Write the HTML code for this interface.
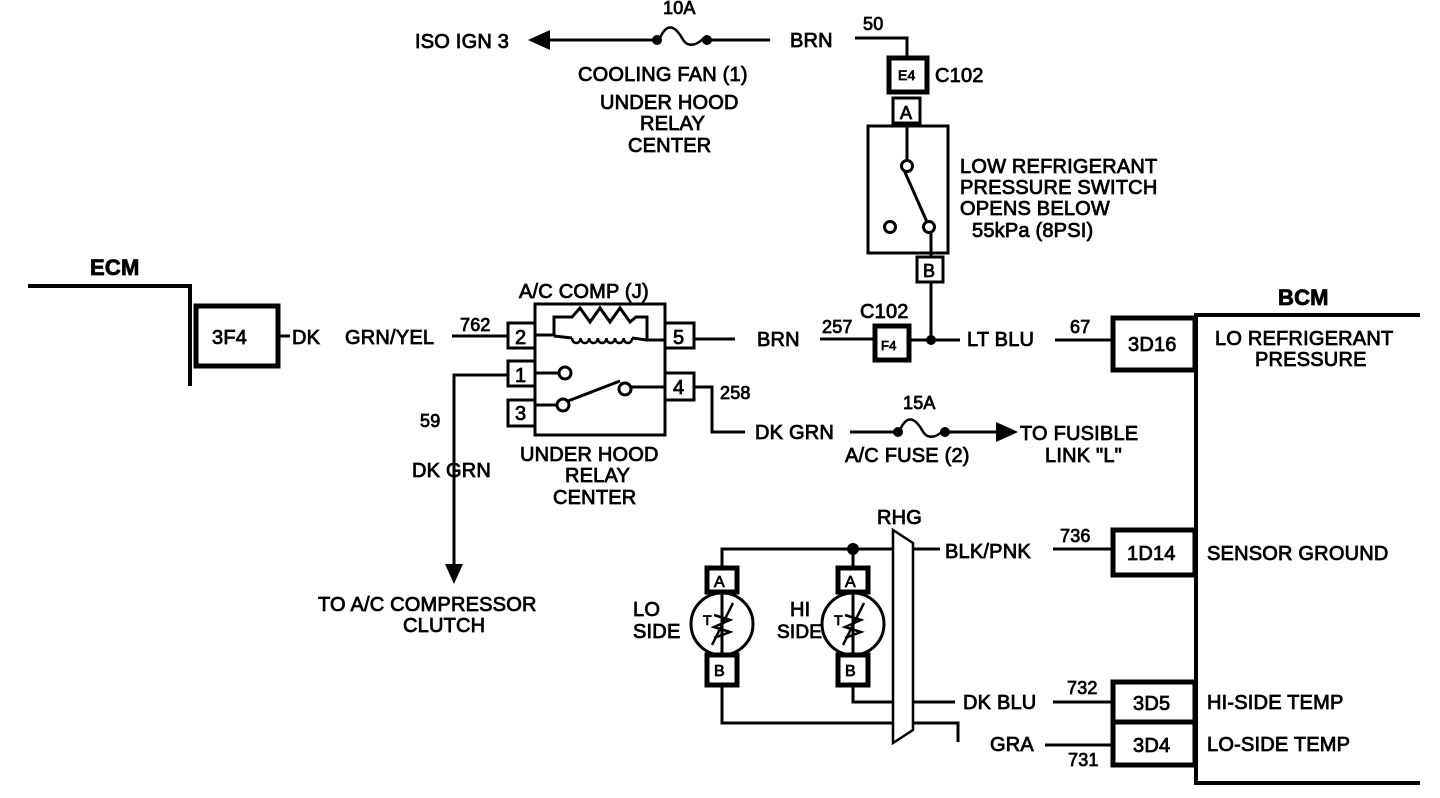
<!DOCTYPE html>
<html><head><meta charset="utf-8"><style>
html,body{margin:0;padding:0;background:#fff;}
svg{display:block}
text{font-family:"Liberation Sans",sans-serif;font-size:20px;fill:#000;stroke:#000;stroke-width:0.8px;letter-spacing:0.2px}
.s{font-size:18px}
</style></head><body>
<svg width="1440" height="798" viewBox="0 0 1440 798" xmlns="http://www.w3.org/2000/svg">
<g fill="none" stroke="#000" stroke-width="3">
<!-- ECM -->
<polyline points="28,286 190,286 190,386" stroke-width="4"/>
<rect x="196" y="306" width="82" height="60" stroke-width="5"/>
<line x1="278" y1="336" x2="290" y2="336"/>
<line x1="452" y1="336" x2="508" y2="336"/>
<!-- relay -->
<rect x="535" y="304" width="130" height="131"/>
<rect x="508" y="323" width="27" height="25"/>
<rect x="508" y="361" width="27" height="25"/>
<rect x="508" y="400" width="27" height="26"/>
<rect x="665" y="323" width="29" height="25"/>
<rect x="665" y="373" width="29" height="27"/>
<polyline points="535,335 554,335 554,317 572,317 580,308 590,322 600,308 610,322 620,308 630,322 636,317 647,317 647,340 665,340"/>
<line x1="554" y1="333" x2="554" y2="335"/>
<path d="M572,338 a4.3,5 0 0 0 8.6,0 a4.3,5 0 0 0 8.6,0 a4.3,5 0 0 0 8.6,0 a4.3,5 0 0 0 8.6,0 a4.3,5 0 0 0 8.6,0 a4.3,5 0 0 0 8.6,0 a4.3,5 0 0 0 8.6,0" stroke-width="2.5"/>
<line x1="554" y1="336" x2="572" y2="338"/>
<line x1="632" y1="338" x2="647" y2="340"/>
<line x1="535" y1="373" x2="559" y2="373"/>
<circle cx="565" cy="373" r="6"/>
<line x1="535" y1="405" x2="557" y2="405"/>
<circle cx="563" cy="405" r="6"/>
<line x1="568" y1="401" x2="620" y2="381"/>
<circle cx="625" cy="389" r="6"/>
<line x1="631" y1="387" x2="665" y2="387"/>
<!-- pin5 wire -->
<line x1="694" y1="339" x2="735" y2="339"/>
<line x1="820" y1="339" x2="875" y2="339"/>
<rect x="875" y="326" width="34" height="34" stroke-width="5"/>
<line x1="909" y1="340" x2="960" y2="340"/>
<line x1="1055" y1="340" x2="1113" y2="340"/>
<rect x="1113" y="318" width="82" height="52" stroke-width="5"/>
<!-- switch -->
<line x1="931" y1="282" x2="931" y2="340"/>
<rect x="917" y="257" width="26" height="25"/>
<rect x="868" y="126" width="80" height="127"/>
<rect x="893" y="98" width="27" height="25"/>
<rect x="889" y="58" width="38" height="34" stroke-width="5"/>
<polyline points="907,58 907,38 855,38"/>
<line x1="907" y1="123" x2="907" y2="161"/>
<circle cx="907" cy="166" r="5.5"/>
<line x1="904" y1="170" x2="927" y2="222"/>
<circle cx="929" cy="227" r="5.5"/>
<circle cx="890" cy="227" r="5.5"/>
<line x1="931" y1="232" x2="931" y2="257"/>
<!-- top fuse -->
<line x1="708" y1="40" x2="770" y2="40"/>
<line x1="545" y1="40" x2="657" y2="40"/>
<path d="M660,38 c6,-14 14,-14 22,0 c4,8 12,10 22,0" stroke-width="2.5"/>
<!-- pin1 -->
<polyline points="508,375 454,375 454,570"/>
<!-- pin4 -->
<polyline points="694,387 712,387 712,432 745,432"/>
<line x1="850" y1="432" x2="898" y2="432"/>
<line x1="945" y1="432" x2="1003" y2="432"/>
<path d="M900,430 c6,-14 14,-14 22,0 c4,8 12,10 22,0" stroke-width="2.5"/>
<!-- BCM -->
<polyline points="1420,315 1196,315 1196,783 1420,783" stroke-width="4"/>
<rect x="1113" y="530" width="82" height="45" stroke-width="5"/>
<rect x="1113" y="682" width="82" height="40" stroke-width="5"/>
<rect x="1113" y="722" width="82" height="43" stroke-width="5"/>
<!-- RHG -->
<polygon points="893,530 913,543 913,730 893,743" stroke-width="2.5"/>
<polyline points="722,568 722,549 893,549"/>
<line x1="853" y1="549" x2="853" y2="568"/>
<line x1="913" y1="549" x2="940" y2="549"/>
<line x1="1053" y1="549" x2="1113" y2="549"/>
<rect x="707" y="568" width="30" height="24" stroke-width="5"/>
<rect x="838" y="568" width="30" height="24" stroke-width="5"/>
<circle cx="722" cy="624" r="31"/>
<circle cx="853" cy="624" r="31"/>
<line x1="722" y1="592" x2="722" y2="655"/>
<line x1="853" y1="592" x2="853" y2="655"/>
<line x1="712" y1="645" x2="733" y2="603" stroke-width="2.5"/>
<line x1="843" y1="645" x2="864" y2="603" stroke-width="2.5"/>
<polyline points="714,615 730,620 714,627 730,632 714,638" stroke-width="2.5"/>
<polyline points="845,615 861,620 845,627 861,632 845,638" stroke-width="2.5"/>
<rect x="707" y="655" width="30" height="30" stroke-width="5"/>
<rect x="838" y="655" width="30" height="30" stroke-width="5"/>
<polyline points="722,685 722,723 893,723"/>
<polyline points="853,685 853,702 893,702"/>
<line x1="913" y1="702" x2="955" y2="702"/>
<line x1="1053" y1="702" x2="1113" y2="702"/>
<polyline points="913,723 958,723 958,742"/>
<line x1="1045" y1="745" x2="1113" y2="745"/>
</g>
<g fill="#000">
<circle cx="657" cy="40" r="5"/><circle cx="707" cy="40" r="5"/>
<polygon points="528,40 550,30 550,50"/>
<circle cx="931" cy="340" r="5"/>
<circle cx="898" cy="432" r="5"/><circle cx="945" cy="432" r="5"/>
<polygon points="1018,432 996,422 996,442"/>
<polygon points="454,584 445,564 463,564"/>
<circle cx="853" cy="549" r="6"/>
</g>
<text x="90" y="275" style="font-size:22px;font-weight:bold">ECM</text>
<text x="212" y="344">3F4</text>
<text x="292" y="344">DK</text>
<text x="345" y="344">GRN/YEL</text>
<text x="460" y="331" class="s">762</text>
<text x="515" y="344">2</text>
<text x="515" y="382">1</text>
<text x="515" y="420">3</text>
<text x="673" y="344">5</text>
<text x="673" y="394">4</text>
<text x="519" y="298">A/C COMP (J)</text>
<text x="757" y="346">BRN</text>
<text x="822" y="333" class="s">257</text>
<text x="860" y="318">C102</text>
<text x="881" y="350" style="font-size:13px">F4</text>
<text x="967" y="346">LT BLU</text>
<text x="1070" y="333" class="s">67</text>
<text x="1128" y="351">3D16</text>
<text x="1278" y="305" style="font-size:22px;font-weight:bold">BCM</text>
<text x="1215" y="345">LO REFRIGERANT</text>
<text x="1255" y="366">PRESSURE</text>
<text x="898" y="80" style="font-size:14px">E4</text>
<text x="935" y="82">C102</text>
<text x="900" y="119" style="font-size:18px">A</text>
<text x="923" y="277" style="font-size:18px">B</text>
<text x="960" y="173">LOW REFRIGERANT</text>
<text x="960" y="194">PRESSURE SWITCH</text>
<text x="960" y="215">OPENS BELOW</text>
<text x="972" y="237">55kPa (8PSI)</text>
<text x="863" y="30" class="s">50</text>
<text x="790" y="47">BRN</text>
<text x="663" y="14" class="s">10A</text>
<text x="415" y="48">ISO IGN 3</text>
<text x="578" y="81">COOLING FAN (1)</text>
<text x="600" y="109">UNDER HOOD</text>
<text x="640" y="130">RELAY</text>
<text x="628" y="152">CENTER</text>
<text x="420" y="427" class="s">59</text>
<text x="412" y="477">DK GRN</text>
<text x="318" y="611">TO A/C COMPRESSOR</text>
<text x="403" y="632">CLUTCH</text>
<text x="720" y="399" class="s">258</text>
<text x="755" y="439">DK GRN</text>
<text x="903" y="409" class="s">15A</text>
<text x="1020" y="440">TO FUSIBLE</text>
<text x="1045" y="462">LINK "L"</text>
<text x="845" y="462">A/C FUSE (2)</text>
<text x="520" y="461">UNDER HOOD</text>
<text x="565" y="482">RELAY</text>
<text x="553" y="504">CENTER</text>
<text x="877" y="524">RHG</text>
<text x="945" y="558">BLK/PNK</text>
<text x="1060" y="542" class="s">736</text>
<text x="1127" y="560">1D14</text>
<text x="1207" y="560">SENSOR GROUND</text>
<text x="633" y="616">LO</text>
<text x="633" y="638">SIDE</text>
<text x="790" y="616">HI</text>
<text x="777" y="638" style="font-size:19px">SIDE</text>
<text x="714" y="587" style="font-size:16px">A</text>
<text x="845" y="587" style="font-size:16px">A</text>
<text x="714" y="676" style="font-size:16px">B</text>
<text x="845" y="676" style="font-size:16px">B</text>
<text x="703" y="625" style="font-size:14px">T</text>
<text x="834" y="625" style="font-size:14px">T</text>
<text x="963" y="709">DK BLU</text>
<text x="1067" y="694" class="s">732</text>
<text x="1133" y="710">3D5</text>
<text x="1207" y="709">HI-SIDE TEMP</text>
<text x="990" y="751">GRA</text>
<text x="1068" y="766" class="s">731</text>
<text x="1133" y="752">3D4</text>
<text x="1207" y="751">LO-SIDE TEMP</text>
</svg>
</body></html>
